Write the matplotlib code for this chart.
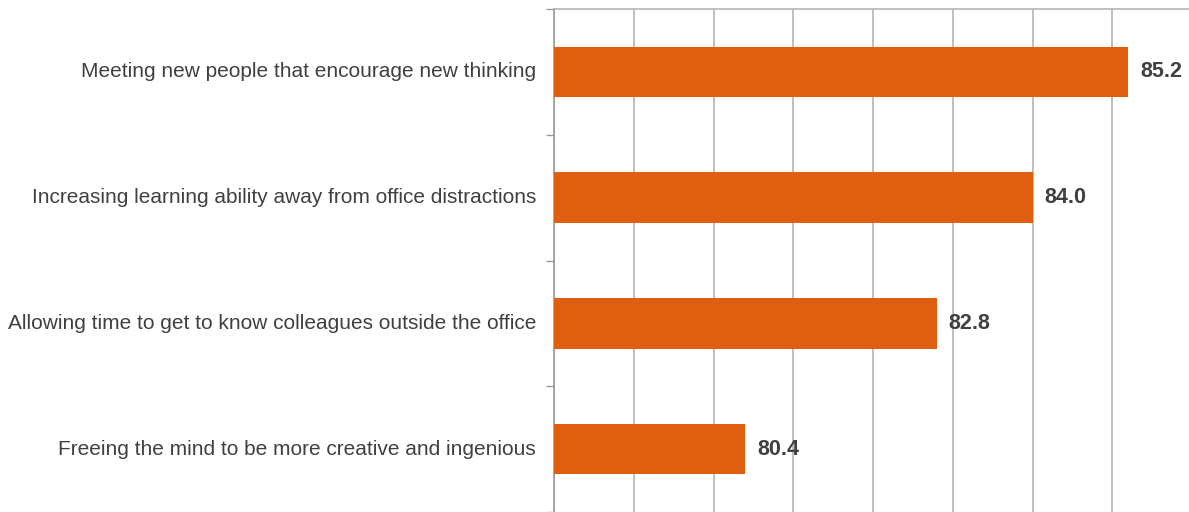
import matplotlib.pyplot as plt
import numpy as np

categories = [
    "Meeting new people that encourage new thinking",
    "Increasing learning ability away from office distractions",
    "Allowing time to get to know colleagues outside the office",
    "Freeing the mind to be more creative and ingenious",
]
values = [85.2, 84.0, 82.8, 80.4]

plt.rcParams['font.family'] = ['Liberation Sans', 'DejaVu Sans']

fig = plt.figure(figsize=(11.89, 5.12), dpi=100)
ax = fig.add_axes([554 / 1189, 0, (1192 - 554) / 1189, (512 - 9) / 512])

y = np.arange(len(categories))
ax.barh(y, [v - 78 for v in values], left=78, height=0.4, color="#E05E0F", zorder=3)

for yi, v in zip(y, values):
    ax.text(v + 0.15, yi, f"{v:.1f}", va="center", ha="left",
            fontsize=15.5, fontweight="bold", color="#404040")

ax.set_xlim(78, 86)
ax.set_ylim(len(categories) - 0.5, -0.5)
ax.set_xticks(np.arange(78, 87, 1))
ax.set_xticklabels([])
ax.tick_params(axis="x", length=0)
ax.grid(axis="x", color="#b4b4b4", linewidth=1.2, zorder=0)

# category labels between tick marks
ax.set_yticks(np.arange(-0.5, len(categories), 1))
ax.set_yticklabels([])
ax.tick_params(axis="y", direction="out", length=6, color="#999999", width=1)
for yi, c in zip(y, categories):
    ax.text(-0.028, yi, c, transform=ax.get_yaxis_transform(), ha="right",
            va="center", fontsize=15, color="#404040")

for s in ["right", "bottom"]:
    ax.spines[s].set_visible(False)
ax.spines["left"].set_color("#999999")
ax.spines["top"].set_color("#b4b4b4")
ax.spines["left"].set_linewidth(1.2)
ax.spines["top"].set_linewidth(1.2)

fig.savefig("out.png", dpi=100)
